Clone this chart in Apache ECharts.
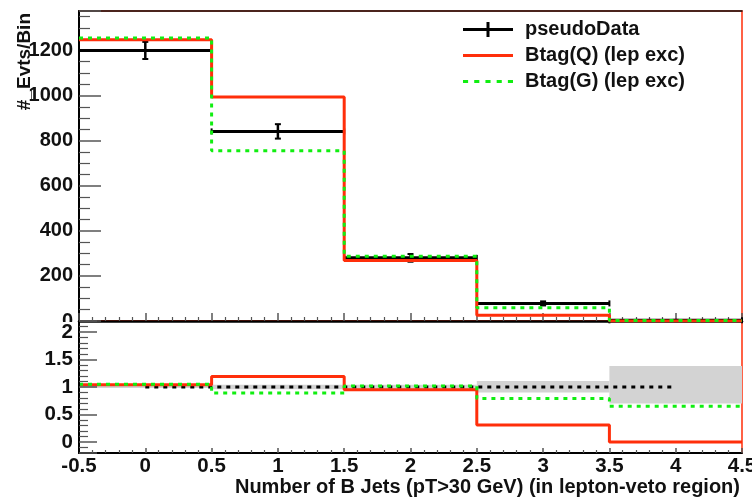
<!DOCTYPE html>
<html>
<head>
<meta charset="utf-8">
<script src="https://cdn.jsdelivr.net/npm/echarts@6/dist/echarts.min.js"></script>
<style>html,body{margin:0;padding:0;background:#fff;}#c{width:752px;height:500px;}</style>
</head>
<body>
<div id="c"></div>
<script>
// ---- data ----
const binLow  = [-0.5, 0.5, 1.5, 2.5, 3.5];
const binHigh = [ 0.5, 1.5, 2.5, 3.5, 4.5];
const pseudoData    = [1200, 841, 280, 78, 3];
const pseudoDataErr = [38, 32, 17, 9, 2];
const btagQ = [1247, 993, 268, 25, 0];
const btagG = [1255, 755, 287, 59, 2];
// ratio panel
const ratioData = [1, 1, 1, 1, 1];
const ratioQ = [1.04, 1.19, 0.95, 0.31, 0.0];
const ratioG = [1.05, 0.89, 1.02, 0.79, 0.65];
const bandLow  = [0.98, 0.96, 0.95, 0.90, 0.70];
const bandHigh = [1.02, 1.04, 1.04, 1.11, 1.38];
const seriesNames = ['pseudoData', 'Btag(Q) (lep exc)', 'Btag(G) (lep exc)'];
const yTitle = '#_Evts/Bin';
const xTitle = 'Number of B Jets (pT>30 GeV) (in lepton-veto region)';

// ---- helpers ----
const RED = '#ff2e0a', GREEN = '#11ee11', FONT = 'Liberation Sans';
function stepData(vals) {
  const d = binLow.map((x, i) => [x, vals[i]]);
  d.push([binHigh[binHigh.length - 1], vals[vals.length - 1]]);
  return d;
}
const dataRows = binLow.map((lo, i) => [lo, binHigh[i], pseudoData[i], pseudoDataErr[i]]);
const bandRows = binLow.map((lo, i) => [lo, binHigh[i], bandLow[i], bandHigh[i]]);
const centers = binLow.map((lo, i) => (lo + binHigh[i]) / 2);

function renderData(params, api) {
  const lo = api.value(0), hi = api.value(1), v = api.value(2), e = api.value(3);
  const c = (lo + hi) / 2;
  const pL = api.coord([lo, v]), pR = api.coord([hi, v]);
  const pT = api.coord([c, v + e]), pB = api.coord([c, v - e]);
  const st = {stroke: '#000', lineWidth: 3};
  const cap = {stroke: '#000', lineWidth: 2};
  return {type: 'group', children: [
    {type: 'line', shape: {x1: pL[0], y1: pL[1], x2: pR[0], y2: pR[1]}, style: st},
    {type: 'line', shape: {x1: pT[0], y1: pT[1], x2: pB[0], y2: pB[1]}, style: {stroke: '#000', lineWidth: 2.5}},
    {type: 'line', shape: {x1: pT[0] - 3, y1: pT[1], x2: pT[0] + 3, y2: pT[1]}, style: cap},
    {type: 'line', shape: {x1: pB[0] - 3, y1: pB[1], x2: pB[0] + 3, y2: pB[1]}, style: cap},
    {type: 'line', shape: {x1: pL[0], y1: pL[1] - 3, x2: pL[0], y2: pL[1] + 3}, style: cap},
    {type: 'line', shape: {x1: pR[0], y1: pR[1] - 3, x2: pR[0], y2: pR[1] + 3}, style: cap}
  ]};
}
function renderBand(params, api) {
  const p1 = api.coord([api.value(0), api.value(3)]);
  const p2 = api.coord([api.value(1), api.value(2)]);
  return {type: 'rect', shape: {x: p1[0], y: p1[1], width: p2[0] - p1[0], height: p2[1] - p1[1]},
          style: {fill: '#d3d3d3'}};
}

const tickCol = '#555';
const chart = echarts.init(document.getElementById('c'), null, {renderer: 'canvas'});
chart.setOption({
  animation: false,
  backgroundColor: '#fff',
  textStyle: {fontFamily: FONT},
  grid: [
    {left: 79, right: 10, top: 11, height: 310, show: true, borderColor: RED, borderWidth: 1.5, backgroundColor: 'transparent', outerBoundsMode: 'none'},
    {left: 79, right: 10, top: 321, height: 132, show: true, borderColor: RED, borderWidth: 1.5, backgroundColor: 'transparent', outerBoundsMode: 'none'}
  ],
  legend: {
    orient: 'vertical', left: 455, top: 12,
    backgroundColor: '#fff',
    padding: [7, 52, 6, 8],
    itemWidth: 50, itemHeight: 15, itemGap: 5,
    textStyle: {fontFamily: FONT, fontWeight: 'bold', fontSize: 20, color: '#111', lineHeight: 21, padding: [0, 0, 0, 7]},
    data: [
      {name: seriesNames[0], icon: 'path://M0,6L50,6L50,9L0,9ZM23.5,0L26.5,0L26.5,15L23.5,15Z', itemStyle: {color: '#000'}},
      {name: seriesNames[1], icon: 'path://M0,0L50,0L50,3L0,3Z', itemStyle: {color: RED}},
      {name: seriesNames[2], icon: 'path://M0,0L5,0L5,3L0,3ZM11,0L16,0L16,3L11,3ZM22,0L27,0L27,3L22,3ZM33,0L38,0L38,3L33,3ZM44,0L49,0L49,3L44,3Z', itemStyle: {color: GREEN}}
    ]
  },
  xAxis: [
    {type: 'value', gridIndex: 0, min: -0.5, max: 4.5, interval: 0.5, position: 'bottom',
     axisLine: {show: true, onZero: false, lineStyle: {color: '#000', width: 2.5}},
     axisTick: {show: true, inside: true, length: 8, lineStyle: {color: tickCol, width: 1.5}},
     minorTick: {show: true, splitNumber: 5, length: 4, lineStyle: {color: tickCol, width: 1.2}},
     axisLabel: {show: false}, splitLine: {show: false}},
    {type: 'value', gridIndex: 0, min: -0.5, max: 4.5, position: 'top',
     axisLine: {show: true, onZero: false, lineStyle: {color: '#111', width: 1.5}},
     axisTick: {show: false}, axisLabel: {show: false}, splitLine: {show: false}},
    {type: 'value', gridIndex: 1, min: -0.5, max: 4.5, interval: 0.5, position: 'bottom',
     axisLine: {show: true, onZero: false, lineStyle: {color: '#000', width: 2}},
     axisTick: {show: true, inside: true, length: 5, lineStyle: {color: tickCol, width: 1.5}},
     minorTick: {show: true, splitNumber: 5, length: 3, lineStyle: {color: tickCol, width: 1.2}},
     axisLabel: {show: true, margin: 3, fontFamily: FONT, fontWeight: 'bold', fontSize: 20.5, color: '#111',
                 formatter: v => String(Math.round(v * 10) / 10)},
     splitLine: {show: false},
     name: xTitle, nameLocation: 'end', nameGap: 0, nameMoveOverlap: false,
     nameTextStyle: {fontFamily: FONT, fontWeight: 'bold', fontSize: 20, color: '#111', align: 'right', verticalAlign: 'top', padding: [24, 2, 0, 0]}}
  ],
  yAxis: [
    {type: 'value', gridIndex: 0, min: 0, max: 1375, interval: 200,
     axisLine: {show: true, onZero: false, lineStyle: {color: '#000', width: 2}},
     axisTick: {show: true, inside: true, length: 22, lineStyle: {color: tickCol, width: 1.5}},
     minorTick: {show: true, splitNumber: 4, length: 11, lineStyle: {color: tickCol, width: 1.2}},
     axisLabel: {show: true, margin: 6, showMaxLabel: false, fontFamily: FONT, fontWeight: 'bold', fontSize: 20, color: '#111',
                 formatter: v => String(v)},
     splitLine: {show: false},
     name: yTitle, nameLocation: 'end', nameRotate: 90, nameGap: -2, nameMoveOverlap: false,
     nameTextStyle: {fontFamily: FONT, fontWeight: 'bold', fontSize: 19, color: '#111', align: 'right', verticalAlign: 'bottom', padding: [0, 0, 45, 0]}},
    {type: 'value', gridIndex: 1, min: -0.2, max: 2.2, splitNumber: 5, minInterval: 0.5, maxInterval: 0.5, z: 6,
     axisLine: {show: true, onZero: false, lineStyle: {color: '#000', width: 2}},
     axisTick: {show: true, inside: true, length: 18, lineStyle: {color: tickCol, width: 1.5}},
     minorTick: {show: true, splitNumber: 5, length: 9, lineStyle: {color: tickCol, width: 1.2}},
     axisLabel: {show: true, margin: 6, showMinLabel: false, showMaxLabel: false, fontFamily: FONT, fontWeight: 'bold', fontSize: 20.5, color: '#111'},
     splitLine: {show: false}}
  ],
  graphic: [
    {type: 'rect', z: 5, shape: {x: 0, y: 322, width: 77, height: 30}, style: {fill: '#fff'}}
  ],
  series: [
    {name: seriesNames[1], type: 'line', xAxisIndex: 0, yAxisIndex: 0, step: 'end', showSymbol: false, symbol: 'none',
     data: stepData(btagQ), lineStyle: {color: RED, width: 3}, itemStyle: {color: RED}},
    {name: seriesNames[2], type: 'line', xAxisIndex: 0, yAxisIndex: 0, step: 'end', showSymbol: false, symbol: 'none',
     data: stepData(btagG), lineStyle: {color: GREEN, width: 3, type: [4, 5]}, itemStyle: {color: GREEN}},
    {name: seriesNames[0], type: 'custom', xAxisIndex: 0, yAxisIndex: 0, renderItem: renderData,
     encode: {x: [0, 1], y: 2}, data: dataRows, itemStyle: {color: '#000'}},
    // ratio panel
    {name: 'band', type: 'custom', xAxisIndex: 2, yAxisIndex: 1, renderItem: renderBand,
     encode: {x: [0, 1], y: [2, 3]}, data: bandRows},
    {name: 'ratioData', type: 'line', xAxisIndex: 2, yAxisIndex: 1, showSymbol: false, symbol: 'none',
     data: centers.map((c, i) => [c, ratioData[i]]), lineStyle: {color: '#000', width: 3, type: [4, 5]}},
    {name: 'ratioQ', type: 'line', xAxisIndex: 2, yAxisIndex: 1, step: 'end', showSymbol: false, symbol: 'none',
     data: stepData(ratioQ), lineStyle: {color: RED, width: 3}},
    {name: 'ratioG', type: 'line', xAxisIndex: 2, yAxisIndex: 1, step: 'end', showSymbol: false, symbol: 'none',
     data: stepData(ratioG), lineStyle: {color: GREEN, width: 3, type: [4, 5]}}
  ]
});
</script>
</body>
</html>
